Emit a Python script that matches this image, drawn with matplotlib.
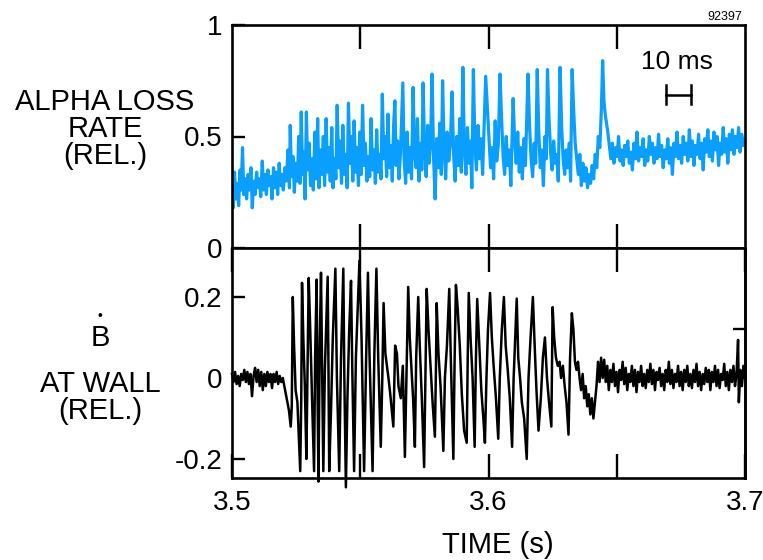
import numpy as np
import matplotlib.pyplot as plt

plt.rcParams['font.family'] = ['Liberation Sans', 'DejaVu Sans']

# traces: (ms after 3.5 s, value)
alpha_pts = [
    (0.0, 0.30), (0.5, 0.18), (1.0, 0.34), (1.5, 0.22), (2.0, 0.29), (2.6, 0.19), (3.1, 0.35), (3.6, 0.26),
    (4.1, 0.45), (4.6, 0.24), (5.2, 0.31), (5.7, 0.22), (6.3, 0.33), (6.8, 0.26), (7.4, 0.36), (7.9, 0.18),
    (8.5, 0.30), (9.0, 0.24), (9.6, 0.34), (10.1, 0.27), (10.7, 0.31), (11.2, 0.23), (11.8, 0.39), (12.3, 0.26),
    (12.9, 0.33), (13.4, 0.24), (14.0, 0.35), (14.5, 0.28), (15.1, 0.32), (15.6, 0.22), (16.2, 0.36), (16.7, 0.27),
    (17.3, 0.34), (17.8, 0.24), (18.4, 0.38), (18.9, 0.28), (19.5, 0.33), (20.0, 0.26), (20.6, 0.36),
    (21.2, 0.30), (21.8, 0.44), (22.4, 0.27), (22.7, 0.55), (23.2, 0.32), (23.8, 0.41), (24.3, 0.25), (24.9, 0.38),
    (25.5, 0.30), (26.0, 0.50), (26.5, 0.29), (27.0, 0.61), (27.5, 0.33), (28.0, 0.43), (28.5, 0.22), (29.0, 0.61),
    (29.5, 0.35), (30.1, 0.47), (30.6, 0.28), (31.2, 0.40), (31.7, 0.26), (32.3, 0.52), (32.8, 0.31), (33.4, 0.58),
    (33.9, 0.27), (34.5, 0.44), (35.0, 0.33), (35.6, 0.50), (36.1, 0.28), (36.7, 0.58), (37.2, 0.34), (37.8, 0.45),
    (38.3, 0.30), (38.9, 0.54), (39.4, 0.27), (40.0, 0.40), (40.5, 0.31), (41.0, 0.64), (41.6, 0.36), (42.1, 0.48),
    (42.7, 0.29), (43.2, 0.55), (43.8, 0.33), (44.3, 0.42), (44.9, 0.27), (45.4, 0.65), (46.0, 0.38), (46.5, 0.50),
    (47.1, 0.30), (47.6, 0.57), (48.2, 0.34), (48.7, 0.45), (49.3, 0.28), (49.8, 0.52), (50.4, 0.33), (50.9, 0.64),
    (51.5, 0.37), (52.0, 0.47), (52.6, 0.30), (53.1, 0.41), (53.7, 0.32), (54.2, 0.58), (54.8, 0.35), (55.3, 0.44),
    (55.9, 0.29), (56.4, 0.53), (57.0, 0.34), (57.6, 0.42), (58.1, 0.31), (58.6, 0.69), (59.2, 0.40), (59.7, 0.50),
    (60.3, 0.32), (60.8, 0.60), (61.4, 0.36), (61.9, 0.46), (62.5, 0.30), (63.0, 0.55), (63.5, 0.66), (64.0, 0.37),
    (64.6, 0.48), (65.1, 0.31), (65.7, 0.43),
    (66.6, 0.74), (67.1, 0.40), (67.7, 0.29), (68.3, 0.52), (68.8, 0.34), (69.4, 0.45), (70.0, 0.31), (70.6, 0.72),
    (71.2, 0.42), (71.8, 0.36), (72.3, 0.58), (72.9, 0.30), (73.5, 0.47), (74.0, 0.35), (74.5, 0.74), (75.1, 0.44),
    (75.7, 0.32), (76.3, 0.55), (76.8, 0.38), (77.4, 0.46), (78.0, 0.78), (78.6, 0.40), (79.2, 0.22), (79.8, 0.49),
    (80.4, 0.36), (81.0, 0.56), (81.6, 0.33), (82.1, 0.75), (82.7, 0.45), (83.3, 0.31), (83.9, 0.52), (84.5, 0.39),
    (85.1, 0.46), (85.8, 0.70), (86.4, 0.42), (87.0, 0.30), (87.6, 0.50), (88.2, 0.37), (88.8, 0.58), (89.4, 0.34),
    (90.0, 0.81), (90.6, 0.44), (91.2, 0.33), (91.8, 0.54), (92.4, 0.38), (93.0, 0.48), (93.5, 0.27), (94.1, 0.80),
    (94.7, 0.46), (95.3, 0.35), (95.9, 0.55), (96.5, 0.40), (97.1, 0.49), (97.7, 0.33), (98.9, 0.77), (99.6, 0.62),
    (100.2, 0.50), (100.8, 0.36), (101.4, 0.45), (102.0, 0.31), (102.6, 0.57), (103.2, 0.39), (103.8, 0.46),
    (104.5, 0.78), (105.1, 0.58), (105.7, 0.41), (106.3, 0.33), (106.9, 0.50), (107.5, 0.37), (108.1, 0.44),
    (108.7, 0.28), (109.6, 0.67), (110.2, 0.48), (110.8, 0.38), (111.4, 0.52), (112.0, 0.34), (112.6, 0.45),
    (113.2, 0.31), (113.8, 0.49), (114.4, 0.37), (115.4, 0.78), (116.0, 0.55), (116.6, 0.40), (117.2, 0.32),
    (117.8, 0.47), (118.4, 0.38), (119.0, 0.80), (119.6, 0.52), (120.2, 0.36), (120.8, 0.44), (121.4, 0.28),
    (122.0, 0.50), (122.5, 0.40), (123.0, 0.80), (123.6, 0.58), (124.2, 0.43), (124.8, 0.35), (125.4, 0.48),
    (126.0, 0.38), (126.6, 0.42), (127.2, 0.30), (127.9, 0.81), (128.5, 0.55), (129.1, 0.40), (129.7, 0.33),
    (130.3, 0.44), (130.9, 0.36), (131.5, 0.47), (132.0, 0.30), (132.6, 0.80), (133.2, 0.62), (133.8, 0.47),
    (134.4, 0.40), (135.0, 0.33), (135.6, 0.42), (136.2, 0.28), (136.8, 0.38), (137.4, 0.30), (138.0, 0.36),
    (138.6, 0.27), (139.2, 0.33), (139.8, 0.29), (140.4, 0.37), (141.0, 0.31), (141.6, 0.42), (142.2, 0.36),
    (142.8, 0.50), (143.4, 0.45), (144.0, 0.62), (144.5, 0.84), (145.0, 0.66), (145.5, 0.60), (146.0, 0.56),
    (146.5, 0.52), (147.1, 0.46),
    (147.7, 0.40), (148.3, 0.47), (148.9, 0.38), (149.5, 0.45), (150.1, 0.41), (150.7, 0.50), (151.3, 0.39),
    (151.9, 0.44), (152.5, 0.37), (153.1, 0.46), (153.7, 0.41), (154.3, 0.48), (154.9, 0.38), (155.5, 0.43),
    (156.1, 0.35), (156.7, 0.47), (157.3, 0.40), (157.9, 0.52), (158.5, 0.39), (159.1, 0.45), (159.7, 0.41),
    (160.3, 0.49), (160.9, 0.37), (161.5, 0.44), (162.1, 0.39), (162.7, 0.50), (163.3, 0.42), (163.9, 0.47),
    (164.5, 0.38), (165.1, 0.45), (165.7, 0.40), (166.3, 0.51), (166.9, 0.41), (167.5, 0.46), (168.1, 0.36),
    (168.7, 0.44), (169.3, 0.40), (169.9, 0.49), (170.5, 0.38), (171.1, 0.45), (171.7, 0.33), (172.3, 0.47),
    (172.9, 0.41), (173.5, 0.52), (174.1, 0.40), (174.7, 0.46), (175.3, 0.38), (175.9, 0.50), (176.5, 0.42),
    (177.1, 0.47), (177.7, 0.39), (178.3, 0.53), (178.9, 0.41), (179.5, 0.48), (180.1, 0.37), (180.7, 0.46),
    (181.3, 0.42), (181.9, 0.51), (182.5, 0.40), (183.1, 0.47), (183.7, 0.35), (184.3, 0.49), (184.9, 0.43),
    (185.5, 0.53), (186.1, 0.41), (186.7, 0.48), (187.3, 0.39), (187.9, 0.52), (188.5, 0.44), (189.1, 0.50),
    (189.7, 0.37), (190.3, 0.47), (190.9, 0.42), (191.5, 0.54), (192.1, 0.43), (192.7, 0.49), (193.3, 0.38),
    (193.9, 0.51), (194.5, 0.44), (195.1, 0.53), (195.7, 0.42), (196.3, 0.50), (196.9, 0.45), (197.5, 0.54),
    (198.1, 0.43), (198.7, 0.51), (199.3, 0.46), (200.0, 0.49),
]

bdot_pts = [
    (0.0, 0.01), (0.6, -0.01), (1.2, 0.015), (1.8, -0.015), (2.4, 0.005), (3.0, -0.02), (3.6, 0.01), (4.2, -0.005),
    (4.8, 0.02), (5.4, -0.01), (6.0, 0.015), (6.6, -0.015), (7.2, 0.01), (7.8, -0.045), (8.4, 0.005), (9.0, 0.025),
    (9.6, -0.01), (10.2, 0.02), (10.8, -0.02), (11.4, 0.015), (12.0, -0.03), (12.6, 0.01), (13.2, -0.02),
    (13.8, 0.015), (14.4, -0.01), (15.0, 0.01), (15.6, -0.025), (16.2, 0.01), (16.8, -0.01), (17.4, 0.015),
    (18.0, -0.015), (18.6, 0.005), (19.2, -0.01), (19.8, 0.0), (20.4, -0.02), (21.0, -0.04), (21.6, -0.06),
    (22.2, -0.08), (22.9, -0.12), (23.3, -0.07),
    (23.7, 0.20), (24.2, 0.08), (24.8, -0.03), (25.5, -0.06), (26.6, -0.23), (27.0, -0.05), (27.3, 0.235),
    (27.8, 0.10), (28.4, -0.02), (29.0, -0.20), (29.4, 0.00), (29.9, 0.247), (30.5, 0.12), (31.2, -0.05),
    (32.0, -0.23), (32.4, 0.05), (33.0, 0.243), (33.3, 0.0), (33.7, -0.256), (34.2, 0.08), (34.7, 0.26),
    (35.1, 0.05), (35.6, -0.23), (36.2, 0.02), (36.8, 0.15), (37.3, 0.25), (37.6, 0.03), (37.9, -0.23),
    (38.6, -0.08), (39.3, 0.10), (40.3, 0.27), (40.9, 0.0), (41.8, -0.23), (42.5, 0.05), (43.4, 0.27),
    (43.8, 0.0), (44.4, -0.27), (45.0, -0.05), (45.7, 0.12), (46.4, 0.24), (46.9, 0.02), (47.6, -0.23),
    (48.3, 0.05), (48.9, 0.15), (49.7, 0.29), (50.5, 0.10), (51.5, -0.23), (52.3, 0.05), (53.0, 0.26),
    (53.6, 0.06), (54.8, -0.23), (55.5, 0.06), (56.3, 0.27), (57.0, 0.05), (58.0, -0.17), (58.6, 0.00),
    (59.1, 0.185), (59.8, 0.06), (61.0, 0.00), (61.7, -0.04), (62.9, -0.12), (63.6, 0.08), (64.3, 0.06),
    (64.9, -0.02), (65.8, -0.05), (66.6, 0.03), (67.4, -0.195),
    (68.0, 0.0), (68.7, 0.225), (69.3, 0.10), (70.0, 0.02), (70.6, -0.05), (71.3, -0.17), (71.8, 0.05),
    (72.6, 0.20), (73.2, 0.08), (74.0, -0.05), (74.9, -0.22), (75.4, 0.0), (75.9, 0.22), (76.6, 0.12),
    (77.4, 0.03), (78.2, -0.06), (79.1, -0.145), (79.5, 0.02), (79.8, 0.185), (80.5, 0.06), (81.3, -0.02),
    (82.4, -0.18), (83.0, 0.00), (83.8, 0.08), (84.7, 0.22), (85.3, 0.05), (86.3, -0.20), (86.8, 0.05),
    (87.3, 0.23), (88.0, 0.17), (88.8, 0.08), (89.6, -0.04), (90.5, -0.13), (91.5, -0.16), (91.9, 0.05),
    (92.3, 0.21), (93.0, 0.10), (93.8, 0.0), (94.6, -0.17), (95.1, 0.05), (95.6, 0.195), (96.4, 0.08),
    (97.2, -0.03), (98.0, -0.10), (98.6, -0.16), (99.2, 0.0), (99.8, 0.12), (100.6, 0.21), (101.3, 0.10),
    (102.0, 0.03), (102.9, -0.05), (103.8, -0.15), (104.4, 0.0), (105.2, 0.12), (106.0, 0.20), (106.7, 0.08),
    (107.5, 0.02), (108.3, -0.05), (109.2, -0.17), (109.8, 0.0), (110.4, 0.10), (111.0, 0.196), (111.6, 0.05),
    (112.3, 0.0), (113.0, -0.06), (113.9, -0.10), (114.9, -0.20), (115.6, 0.0), (116.4, 0.10), (117.3, 0.20),
    (118.0, 0.08), (118.7, -0.03), (119.5, -0.13), (120.4, -0.05), (121.2, 0.05), (122.0, 0.10), (122.8, 0.0),
    (123.6, -0.06), (124.5, -0.12), (125.0, 0.175), (125.6, 0.10), (126.3, 0.05), (127.0, 0.03), (127.7, 0.04),
    (128.3, 0.00), (129.0, 0.03), (129.7, -0.02), (130.4, -0.06), (131.2, -0.14), (131.8, 0.05), (132.5, 0.16),
    (133.1, 0.12), (133.7, 0.04), (134.3, 0.02), (134.9, 0.04), (135.5, 0.0), (136.1, -0.03), (136.7, 0.01),
    (137.3, -0.05), (137.9, -0.02), (138.5, -0.07), (139.1, -0.04), (139.7, -0.09), (140.3, -0.05),
    (140.9, -0.10), (141.5, -0.06), (142.1, -0.02), (142.7, 0.04), (143.3, -0.01), (143.9, 0.05),
    (144.5, 0.0), (145.1, 0.045), (145.7, -0.01), (146.3, 0.03), (146.9, -0.03), (147.5, 0.02), (148.1, -0.01),
    (148.7, 0.035), (149.3, -0.02), (149.9, 0.015), (150.5, -0.035), (151.1, 0.02), (151.7, -0.005),
    (152.3, 0.04), (152.9, -0.015), (153.5, 0.025), (154.1, -0.03), (154.7, 0.01), (155.3, -0.01),
    (155.9, 0.03), (156.5, -0.02), (157.1, 0.02), (157.7, -0.035), (158.3, 0.015), (158.9, -0.01),
    (159.5, 0.03), (160.1, -0.02), (160.7, 0.01), (161.3, -0.025), (161.9, 0.02), (162.5, -0.01),
    (163.1, 0.035), (163.7, -0.015), (164.3, 0.02), (164.9, -0.03), (165.5, 0.015), (166.1, -0.005),
    (166.7, 0.025), (167.3, -0.02), (167.9, 0.01), (168.5, -0.03), (169.1, 0.02), (169.7, -0.01),
    (170.3, 0.04), (170.9, -0.015), (171.5, 0.02), (172.1, -0.025), (172.7, 0.01), (173.3, -0.01),
    (173.9, 0.03), (174.5, -0.02), (175.1, 0.015), (175.7, -0.03), (176.3, 0.02), (176.9, -0.01),
    (177.5, 0.03), (178.1, -0.02), (178.7, 0.01), (179.3, -0.025), (179.9, 0.02), (180.5, -0.01),
    (181.1, 0.035), (181.7, -0.02), (182.3, 0.015), (182.9, -0.03), (183.5, 0.01), (184.1, -0.015),
    (184.7, 0.025), (185.3, -0.01), (185.9, 0.02), (186.5, -0.03), (187.1, 0.015), (187.7, -0.01),
    (188.3, 0.03), (188.9, -0.02), (189.5, 0.02), (190.1, -0.025), (190.7, 0.01), (191.3, -0.005),
    (191.9, 0.035), (192.5, -0.02), (193.1, 0.015), (193.7, -0.03), (194.3, 0.02), (194.9, -0.01),
    (195.5, 0.03), (196.1, -0.02), (196.7, 0.01), (197.3, 0.094), (197.6, -0.06), (198.2, 0.02),
    (198.8, -0.02), (199.4, 0.03), (200.0, 0.0),
]

t_start = 3.5
alpha_ms, alpha_val = np.array(alpha_pts).T
bdot_ms, bdot_val = np.array(bdot_pts).T
alpha_t = t_start + alpha_ms / 1000.0
bdot_t = t_start + bdot_ms / 1000.0

W, H = 763, 560
fig = plt.figure(figsize=(W / 100, H / 100), dpi=100)

def fx(px):
    return px / W

def fy(py):
    return 1 - py / H

ax1 = fig.add_axes([fx(232), fy(248), 513 / W, 223 / H])
ax2 = fig.add_axes([fx(232), fy(478), 513 / W, 230 / H])

for ax in (ax1, ax2):
    for s in ax.spines.values():
        s.set_linewidth(1.9)
    ax.tick_params(direction='in', width=1.7, labelsize=20, pad=7,
                   top=True, bottom=True, left=True, right=False)
    ax.tick_params(axis='x', length=17, pad=9)
    ax.tick_params(axis='y', length=9)
    ax.set_xlim(3.5, 3.7)

# top panel: alpha loss rate
ax1.plot(alpha_t, alpha_val, color='#0a9ffc', lw=2.3)
ax1.set_ylim(0, 1)
ax1.set_xticks([3.55, 3.6, 3.65])
ax1.tick_params(axis='x', labelbottom=False)
ax1.set_yticks([0, 0.5, 1])
ax1.set_yticklabels(['0', '0.5', '1'])

# 10 ms scale bar
bar_x0, bar_x1, bar_y = 3.6691, 3.6791, 0.686
ax1.plot([bar_x0, bar_x1], [bar_y, bar_y], color='black', lw=1.8)
ax1.plot([bar_x0, bar_x0], [bar_y - 0.04, bar_y + 0.045], color='black', lw=1.8)
ax1.plot([bar_x1, bar_x1], [bar_y - 0.04, bar_y + 0.045], color='black', lw=1.8)

# bottom panel: B-dot at wall
ax2.plot(bdot_t, bdot_val, color='black', lw=1.8, clip_on=False)
ax2.set_ylim(-0.247, 0.321)
ax2.set_xticks([3.5, 3.55, 3.6, 3.65, 3.7])
ax2.set_xticklabels(['3.5', '', '3.6', '', '3.7'])
ax2.set_yticks([-0.2, 0, 0.2])
ax2.set_yticklabels(['-0.2', '0', '0.2'])

sec = ax2.secondary_yaxis('right')
sec.set_yticks([0.12])
sec.set_yticklabels([])
sec.tick_params(direction='in', length=9, width=1.7)
sec.spines['right'].set_linewidth(1.9)

# panel labels, one text per line
label_kw = dict(ha='center', va='center', fontsize=21)
fig.text(fx(105), fy(102), 'ALPHA LOSS', **label_kw)
fig.text(fx(105), fy(129), 'RATE', **label_kw)
fig.text(fx(105), fy(156), '(REL.)', **label_kw)
fig.text(fx(100), fy(316), '•', ha='center', va='center', fontsize=10)
fig.text(fx(100), fy(338), 'B', **label_kw)
fig.text(fx(100), fy(384), 'AT WALL', **label_kw)
fig.text(fx(100), fy(411), '(REL.)', **label_kw)
fig.text(fx(498), fy(545), 'TIME (s)', **label_kw)
fig.text(fx(677), fy(62), '10 ms', ha='center', va='center', fontsize=19)
fig.text(fx(742), fy(17), '92397', ha='right', va='center', fontsize=9)

fig.savefig('out.png', dpi=100)
